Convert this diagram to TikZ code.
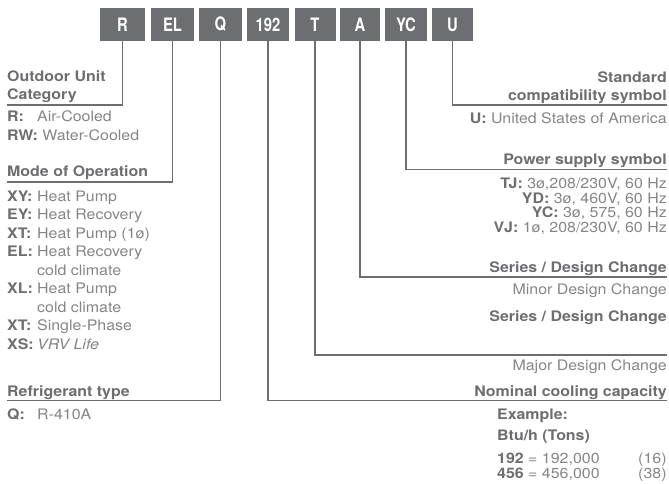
\documentclass[tikz,border=0pt]{standalone}
\usepackage{fontspec}
\setmainfont{TeX Gyre Heros}[FakeStretch=1.1]
\newfontfamily\codefont{TeX Gyre Heros}[FakeStretch=0.8]
\usepackage{xcolor}
\usepackage{tikz}
\usetikzlibrary{positioning}
\definecolor{codegray}{HTML}{6D6E71}
\definecolor{descgray}{HTML}{848588}
\newcommand{\keylbl}[1]{\makebox[30pt][l]{\color{codegray}\bfseries #1}}
\newcommand{\boldkey}[1]{{\color{codegray}\bfseries #1}}

\begin{document}
\begin{tikzpicture}[
    x=1pt, y=-1pt,
    nosep/.style={inner sep=0},
    codebox/.style={fill=codegray, text=white, minimum height=33pt, inner sep=0,
        font=\codefont\fontsize{18.5}{18}\selectfont\bfseries},
    head/.style={nosep, text=codegray, font=\fontsize{14.5}{16}\selectfont\bfseries},
    desc/.style={nosep, text=descgray, font=\fontsize{14.5}{16}\selectfont},
    lead/.style={draw=codegray, line width=1.2pt}]
\useasboundingbox (0,0) rectangle (669,484);

% model code boxes
\node[codebox, minimum width=45pt] (bR)   at (122.5,24.5) {R};
\node[codebox, minimum width=43pt] (bEL)  at (172.5,24.5) {EL};
\node[codebox, minimum width=43pt] (bQ)   at (220.5,24.5) {Q};
\node[codebox, minimum width=42pt] (bCap) at (268,24.5)   {192};
\node[codebox, minimum width=41pt] (bT)   at (315,24.5)   {T};
\node[codebox, minimum width=40pt] (bA)   at (360,24.5)   {A};
\node[codebox, minimum width=42pt] (bYC)  at (406,24.5)   {YC};
\node[codebox, minimum width=41pt] (bU)   at (452.5,24.5) {U};

% left column
\node[head, anchor=base west] (catA) at (7,81.2)  {Outdoor Unit};
\node[head, anchor=base west] (catB) at (7,99.2)  {Category};
\node[desc, anchor=base west] (catR) at (7,121.7) {\keylbl{R:}Air-Cooled};
\node[desc, anchor=base west] (catW) at (7,140.2) {\boldkey{RW:} Water-Cooled};

\node[head, anchor=base west] (modeH) at (7,176.2) {Mode of Operation};
\node[desc, anchor=base west] (mXY)  at (7,201.2) {\keylbl{XY:}Heat Pump};
\node[desc, anchor=base west] (mEY)  at (7,219.7) {\keylbl{EY:}Heat Recovery};
\node[desc, anchor=base west] (mXT)  at (7,238.2) {\keylbl{XT:}Heat Pump (1ø)};
\node[desc, anchor=base west] (mEL)  at (7,256.7) {\keylbl{EL:}Heat Recovery};
\node[desc, anchor=base west] (mELb) at (7,275.2) {\keylbl{}cold climate};
\node[desc, anchor=base west] (mXL)  at (7,293.7) {\keylbl{XL:}Heat Pump};
\node[desc, anchor=base west] (mXLb) at (7,312.2) {\keylbl{}cold climate};
\node[desc, anchor=base west] (mXTs) at (7,330.7) {\keylbl{XT:}Single-Phase};
\node[desc, anchor=base west] (mXS)  at (7,349.2) {\keylbl{XS:}\itshape VRV Life};

\node[head, anchor=base west] (refH) at (7,396.7) {Refrigerant type};
\node[desc, anchor=base west] (refQ) at (7,419.2) {\keylbl{Q:}R-410A};

% right column
\node[head, anchor=base east] (stdA) at (667,82.2)  {Standard};
\node[head, anchor=base east] (stdB) at (667,100.2) {compatibility symbol};
\node[desc, anchor=base east] (stdU) at (667,123.2) {\boldkey{U:} United States of America};

\node[head, anchor=base east] (pwrH)  at (667,164.7) {Power supply symbol};
\node[desc, anchor=base east] (pwrTJ) at (667,188.7) {\boldkey{TJ:} 3ø,208/230V, 60 Hz};
\node[desc, anchor=base east] (pwrYD) at (667,203.2) {\boldkey{YD:} 3ø, 460V, 60 Hz};
\node[desc, anchor=base east] (pwrYC) at (667,217.7) {\boldkey{YC:} 3ø, 575, 60 Hz};
\node[desc, anchor=base east] (pwrVJ) at (667,232.2) {\boldkey{VJ:} 1ø, 208/230V, 60 Hz};

\node[head, anchor=base east] (serA)  at (667,272.7) {Series / Design Change};
\node[desc, anchor=base east] (serMn) at (667,294.2) {Minor Design Change};
\node[head, anchor=base east] (serB)  at (667,321.2) {Series / Design Change};
\node[desc, anchor=base east] (serMj) at (667,370.2) {Major Design Change};

\node[head, anchor=base east] (capH) at (667,396.7) {Nominal cooling capacity};
\node[head, anchor=base west] (capE) at (497,419.2) {Example:};
\node[head, anchor=base west] (capB) at (497,440.2) {Btu/h (Tons)};
\node[desc, anchor=base west] (capX) at (497,463.7)
    {\makebox[141pt][l]{\boldkey{192} = 192,000}(16)};
\node[desc, anchor=base west] (capY) at (497,478.2)
    {\makebox[141pt][l]{\boldkey{456} = 456,000}(38)};

% leader ends
\coordinate (catEnd)  at (7,105);
\coordinate (modeEnd) at (7,182);
\coordinate (refEnd)  at (7,400.5);
\coordinate (stdEnd)  at (667,105);
\coordinate (pwrEnd)  at (667,169.5);
\coordinate (serEnd)  at (667,277);
\coordinate (majEnd)  at (667,355);
\coordinate (capEnd)  at (667,400.5);

% leaders
\path[lead] (bR.south)   |- (catEnd);
\path[lead] (bEL.south)  |- (modeEnd);
\path[lead] (bQ.south)   |- (refEnd);
\path[lead] (bCap.south) |- (capEnd);
\path[lead] (bT.south)   |- (majEnd);
\path[lead] (bA.south)   |- (serEnd);
\path[lead] (bYC.south)  |- (pwrEnd);
\path[lead] (bU.south)   |- (stdEnd);

\end{tikzpicture}
\end{document}
